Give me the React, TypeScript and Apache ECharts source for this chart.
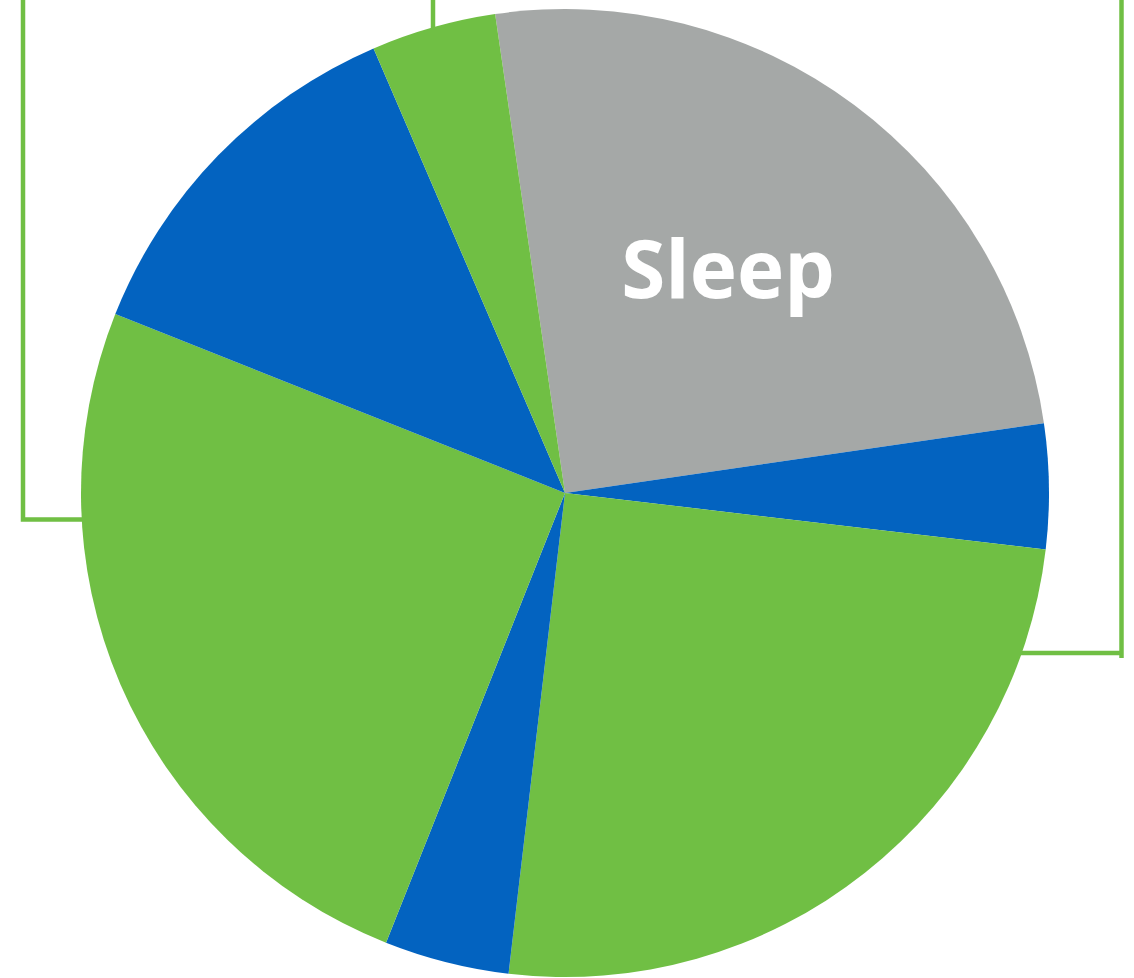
import React, { useEffect, useRef } from "react";
import * as echarts from "echarts";

const categories = ["Sleep", "Segment B", "Segment C", "Segment D", "Segment E", "Segment F", "Segment G"];
const hours = [6, 1, 6, 1, 6, 3, 1];
const sliceColors = ["#A5A8A7", "#0363C0", "#70BF44", "#0363C0", "#70BF44", "#0363C0", "#70BF44"];
const labelText = "Sleep";

export default function App() {
  const ref = useRef<HTMLDivElement>(null);
  useEffect(() => {
    document.body.style.margin = "0";
    const chart = echarts.init(ref.current!, null, { renderer: "svg" });
    const green = "#70BF44";
    const lineStyle = { stroke: green, lineWidth: 4.5 };
    chart.setOption({
      animation: false,
      backgroundColor: "#ffffff",
      graphic: [
        { type: "polyline", z: 0, shape: { points: [[23, 0], [23, 519.5], [90, 519.5]] }, style: { ...lineStyle, fill: null } },
        { type: "line", z: 0, shape: { x1: 433, y1: 0, x2: 433, y2: 40 }, style: lineStyle },
        { type: "polyline", z: 0, shape: { points: [[1121.5, 0], [1121.5, 658]] }, style: { ...lineStyle, fill: null } },
        { type: "line", z: 0, shape: { x1: 1010, y1: 653, x2: 1121.5, y2: 653 }, style: lineStyle },
        {
          type: "text",
          z: 100,
          x: 728,
          y: 266,
          style: {
            text: labelText,
            fill: "#ffffff",
            font: "bold 80px 'Open Sans'",
            textAlign: "center",
            textVerticalAlign: "middle",
          },
        },
      ],
      series: [
        {
          type: "pie",
          z: 2,
          center: [565, 493],
          radius: 484,
          startAngle: 98.3,
          clockwise: true,
          label: { show: false },
          labelLine: { show: false },
          emphasis: { disabled: true },
          itemStyle: { borderWidth: 0 },
          data: categories.map((name, i) => ({
            name,
            value: hours[i],
            itemStyle: { color: sliceColors[i] },
          })),
        },
      ],
    });
    return () => chart.dispose();
  }, []);
  return <div ref={ref} style={{ width: 1134, height: 978 }} />;
}
